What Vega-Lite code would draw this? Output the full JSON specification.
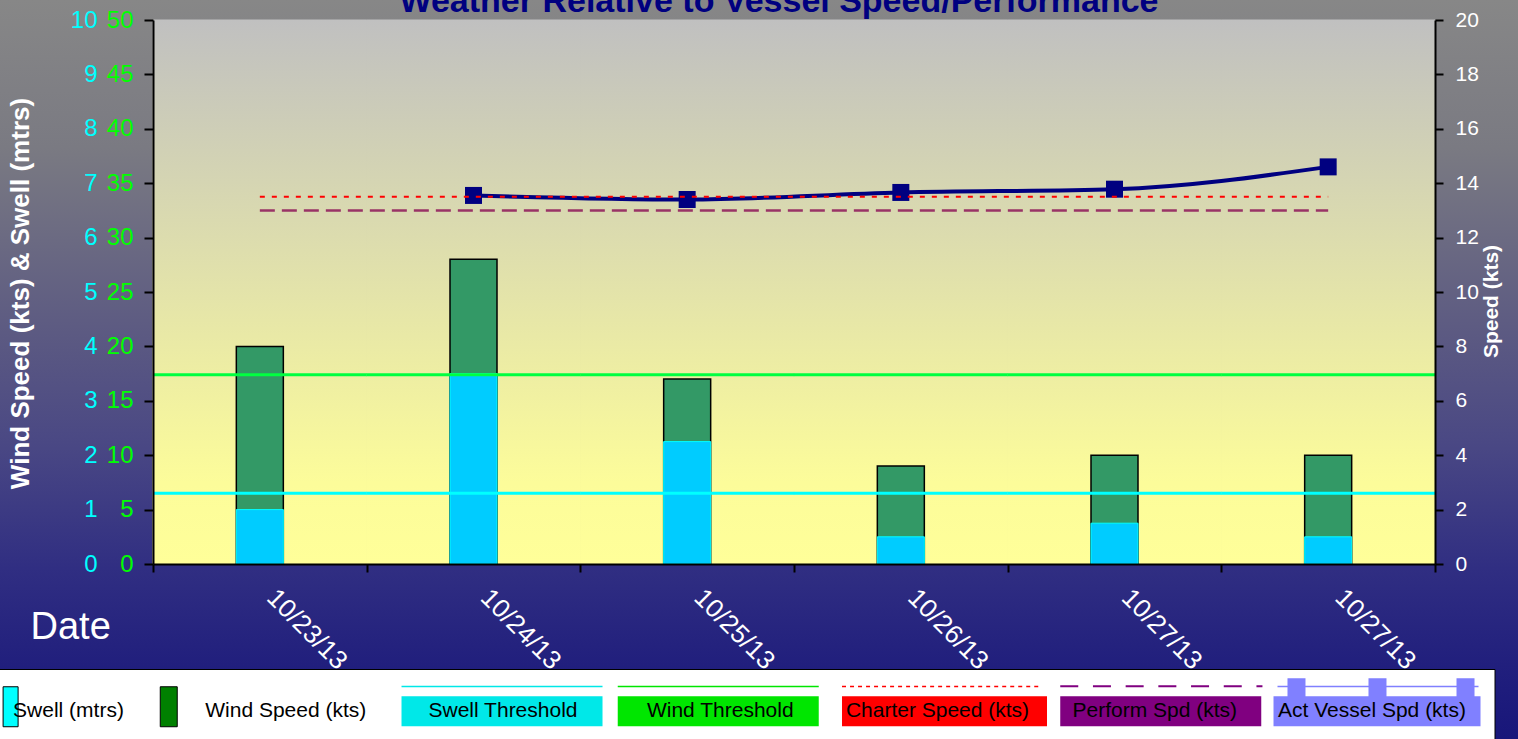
{
  "$schema": "https://vega.github.io/schema/vega-lite/v6.json",
  "width": 1518,
  "height": 739,
  "autosize": {"type": "none"},
  "padding": 0,
  "background": "#2f2e84",
  "view": {
    "fill": {"gradient": "linear", "x1": 0, "y1": 0, "x2": 0, "y2": 1,
      "stops": [
        {"offset": 0, "color": "#878787"},
        {"offset": 0.2, "color": "#7a7a82"},
        {"offset": 0.45, "color": "#5c5a82"},
        {"offset": 0.6, "color": "#4a4884"},
        {"offset": 0.77, "color": "#302e82"},
        {"offset": 0.9, "color": "#211f7d"},
        {"offset": 1, "color": "#18167a"}
      ]},
    "stroke": null
  },
  "title": {
    "text": "Weather Relative to Vessel Speed/Performance",
    "font": "Liberation Sans", "fontSize": 34, "fontWeight": "bold", "color": "#000080",
    "anchor": "middle", "baseline": "alphabetic", "offset": -46, "dx": 20
  },
  "datasets": {
    "daily": [
      {"slot": "10/23/13", "wind": 20, "swell": 1.0, "speed": null, "charter": 13.5, "perform": 13.0, "wind_threshold": 17.4, "swell_threshold": 1.3},
      {"slot": "10/24/13", "wind": 28, "swell": 3.5, "speed": 13.55, "charter": 13.5, "perform": 13.0, "wind_threshold": 17.4, "swell_threshold": 1.3},
      {"slot": "10/25/13", "wind": 17, "swell": 2.25, "speed": 13.4, "charter": 13.5, "perform": 13.0, "wind_threshold": 17.4, "swell_threshold": 1.3},
      {"slot": "10/26/13", "wind": 9, "swell": 0.5, "speed": 13.66, "charter": 13.5, "perform": 13.0, "wind_threshold": 17.4, "swell_threshold": 1.3},
      {"slot": "10/27/13", "wind": 10, "swell": 0.75, "speed": 13.78, "charter": 13.5, "perform": 13.0, "wind_threshold": 17.4, "swell_threshold": 1.3},
      {"slot": "10/27/13#2", "wind": 10, "swell": 0.5, "speed": 14.6, "charter": 13.5, "perform": 13.0, "wind_threshold": 17.4, "swell_threshold": 1.3}
    ]
  },
  "data": {"name": "daily"},
  "layer": [
    {
      "mark": {"type": "bar", "width": {"band": 1}, "strokeWidth": 1,
        "fill": {"gradient": "linear", "x1": 0, "y1": 0, "x2": 0, "y2": 1,
          "stops": [{"offset": 0, "color": "#c0c0c0"}, {"offset": 0.85, "color": "#fcfc9a"}, {"offset": 1, "color": "#ffff99"}]},
        "stroke": {"gradient": "linear", "x1": 0, "y1": 0, "x2": 0, "y2": 1,
          "stops": [{"offset": 0, "color": "#c0c0c0"}, {"offset": 0.85, "color": "#fcfc9a"}, {"offset": 1, "color": "#ffff99"}]}},
      "encoding": {
        "x": {"field": "slot", "type": "nominal"},
        "y": {"datum": 50, "type": "quantitative", "scale": {"domain": [0, 50], "range": [564, 20], "nice": false}, "axis": null},
        "y2": {"datum": 0}
      }
    },
    {
      "mark": {"type": "bar", "fill": "#339966", "stroke": "#000000", "strokeWidth": 1.5, "width": {"band": 0.22}},
      "encoding": {
        "x": {"field": "slot", "type": "nominal", "scale": {"range": [153, 1435]}, "axis": {
          "orient": "bottom", "offset": -175,
          "title": "Date", "titleColor": "#ffffff", "titleFontSize": 38, "titleFontWeight": "normal",
          "titleX": 30, "titleY": 74, "titleAlign": "left", "titleBaseline": "alphabetic", "titleAngle": 0,
          "labelAngle": 45, "labelAlign": "left", "labelBaseline": "top",
          "labelColor": "#ffffff", "labelFontSize": 26, "labelOffset": 20,
          "labelExpr": "isValid(datum.value) ? split(datum.value, '#')[0] : ''",
          "tickBand": "extent", "tickSize": 8, "labelPadding": 12, "labelOverlap": false, "labelFlush": false, "zindex": 1
        }},
        "y": {"field": "wind", "type": "quantitative", "scale": {"domain": [0, 50], "range": [564, 20], "nice": false}, "axis": {
          "orient": "left", "offset": -153, "values": [0, 5, 10, 15, 20, 25, 30, 35, 40, 45, 50],
          "labelColor": "#00ff00", "labelFontSize": 24, "tickSize": 9, "labelPadding": 11,
          "title": "Wind Speed (kts) & Swell (mtrs)", "titleColor": "#ffffff", "titleFontSize": 26, "titleFontWeight": "bold",
          "titleAngle": -90, "titleX": -133, "titleY": 293, "titleAlign": "center", "titleBaseline": "middle", "zindex": 1
        }}
      }
    },
    {
      "mark": {"type": "bar", "fill": "#00ccff", "stroke": "#00ffff", "strokeWidth": 1, "width": {"band": 0.22}},
      "encoding": {
        "x": {"field": "slot", "type": "nominal"},
        "y": {"field": "swell", "type": "quantitative", "scale": {"domain": [0, 10], "range": [564, 20], "nice": false}, "axis": {
          "orient": "left", "offset": -153, "values": [0, 1, 2, 3, 4, 5, 6, 7, 8, 9, 10],
          "labelColor": "#00ffff", "labelFontSize": 24, "domain": false, "ticks": false, "labelPadding": 56, "title": null
        }}
      }
    },
    {
      "mark": {"type": "tick", "color": "#00ff40", "thickness": 3, "size": 214, "opacity": 1},
      "encoding": {
        "x": {"field": "slot", "type": "nominal"},
        "y": {"field": "wind_threshold", "type": "quantitative", "scale": {"domain": [0, 50], "range": [564, 20], "nice": false}, "axis": null}
      }
    },
    {
      "mark": {"type": "tick", "color": "#00ffff", "thickness": 3, "size": 214, "opacity": 1},
      "encoding": {
        "x": {"field": "slot", "type": "nominal"},
        "y": {"field": "swell_threshold", "type": "quantitative", "scale": {"domain": [0, 10], "range": [564, 20], "nice": false}, "axis": null}
      }
    },
    {
      "mark": {"type": "line", "color": "#000080", "strokeWidth": 4, "interpolate": "monotone"},
      "encoding": {
        "x": {"field": "slot", "type": "nominal"},
        "y": {"field": "speed", "type": "quantitative", "scale": {"domain": [0, 20], "range": [564, 20], "nice": false}, "axis": {
          "orient": "right", "offset": -83, "values": [0, 2, 4, 6, 8, 10, 12, 14, 16, 18, 20],
          "labelColor": "#ffffff", "labelFontSize": 21, "tickSize": 8, "labelPadding": 12,
          "title": "Speed (kts)", "titleColor": "#ffffff", "titleFontSize": 21, "titleFontWeight": "bold",
          "titleAngle": -90, "titleX": 56, "titleY": 301, "titleAlign": "center", "titleBaseline": "middle", "zindex": 1
        }}
      }
    },
    {
      "mark": {"type": "point", "shape": "square", "filled": true, "size": 289, "color": "#000080", "opacity": 1},
      "encoding": {
        "x": {"field": "slot", "type": "nominal"},
        "y": {"field": "speed", "type": "quantitative", "scale": {"domain": [0, 20], "range": [564, 20], "nice": false}, "axis": null}
      }
    },
    {
      "mark": {"type": "line", "color": "#993366", "strokeWidth": 2.5, "strokeDash": [15, 7]},
      "encoding": {
        "x": {"field": "slot", "type": "nominal"},
        "y": {"field": "perform", "type": "quantitative", "scale": {"domain": [0, 20], "range": [564, 20], "nice": false}, "axis": null}
      }
    },
    {
      "mark": {"type": "line", "color": "#ff0000", "strokeWidth": 2, "strokeDash": [5, 7]},
      "encoding": {
        "x": {"field": "slot", "type": "nominal"},
        "y": {"field": "charter", "type": "quantitative", "scale": {"domain": [0, 20], "range": [564, 20], "nice": false}, "axis": null}
      }
    },
    {
      "data": {"values": [{"legend_item": 1}]},
      "mark": {"type": "point", "filled": true, "opacity": 0, "strokeWidth": 1},
      "encoding": {
        "color": {
          "datum": "Swell (mtrs)", "type": "nominal",
          "scale": {
            "domain": ["Swell (mtrs)", "Wind Speed (kts)", "Swell Threshold", "Wind Threshold", "Charter Speed (kts)", "Perform Spd (kts)", "Act Vessel Spd (kts)"],
            "range": ["#00ffff", "#008000", "#00e8e8", "#00e600", "#ff0000", "#800080", "#8080ff"]
          },
          "legend": {"title": null, "labelExpr": "datum.value === 'Swell (mtrs)' ? '\u00a0\u00a0\u00a0\u00a0\u00a0\u00a0\u00a0' + datum.label : datum.value === 'Wind Speed (kts)' || datum.value === 'Wind Threshold' ? datum.label + '\u00a0\u00a0' : datum.value === 'Charter Speed (kts)' ? '\u00a0\u00a0' + datum.label : datum.value === 'Perform Spd (kts)' ? '\u00a0\u00a0\u00a0' + datum.label : datum.value === 'Act Vessel Spd (kts)' ? '\u00a0' + datum.label : datum.label"}
        },
        "shape": {
          "datum": "Swell (mtrs)", "type": "nominal",
          "scale": {
            "domain": ["Swell (mtrs)", "Wind Speed (kts)", "Swell Threshold", "Wind Threshold", "Charter Speed (kts)", "Perform Spd (kts)", "Act Vessel Spd (kts)"],
            "range": [
              "M-1.85,0M6,0M0.17,-0.8H0.67V0.533H0.17Z",
              "M-1.85,0M6,0M-1.833,-0.8H-1.267V0.533H-1.833Z",
              "M-1.85,0M6,0M-1.033,-0.85H5.667V-0.8H-1.033ZM-1.033,-0.5H5.667V0.5H-1.033Z",
              "M-1.85,0M6,0M-1.067,-0.85H5.633V-0.8H-1.067ZM-1.067,-0.5H5.633V0.5H-1.067Z",
              "M-1.85,0M6,0M-0.833,-0.5H6V0.5H-0.833ZM-0.833,-0.85h0.133v0.05h-0.133v-0.05zm0.267,0h0.133v0.05h-0.133v-0.05zm0.267,0h0.133v0.05h-0.133v-0.05zm0.267,0h0.133v0.05h-0.133v-0.05zm0.267,0h0.133v0.05h-0.133v-0.05zm0.267,0h0.133v0.05h-0.133v-0.05zm0.267,0h0.133v0.05h-0.133v-0.05zm0.267,0h0.133v0.05h-0.133v-0.05zm0.267,0h0.133v0.05h-0.133v-0.05zm0.267,0h0.133v0.05h-0.133v-0.05zm0.267,0h0.133v0.05h-0.133v-0.05zm0.267,0h0.133v0.05h-0.133v-0.05zm0.267,0h0.133v0.05h-0.133v-0.05zm0.267,0h0.133v0.05h-0.133v-0.05zm0.267,0h0.133v0.05h-0.133v-0.05zm0.267,0h0.133v0.05h-0.133v-0.05zm0.267,0h0.133v0.05h-0.133v-0.05zm0.267,0h0.133v0.05h-0.133v-0.05zm0.267,0h0.133v0.05h-0.133v-0.05zm0.267,0h0.133v0.05h-0.133v-0.05zm0.267,0h0.133v0.05h-0.133v-0.05zm0.267,0h0.133v0.05h-0.133v-0.05zm0.267,0h0.133v0.05h-0.133v-0.05zm0.267,0h0.133v0.05h-0.133v-0.05zm0.267,0h0.133v0.05h-0.133v-0.05z",
              "M-1.85,0M6,0M-0.8,-0.5H5.9V0.5H-0.8ZM-0.8,-0.867h0.6v0.067h-0.6v-0.067zm1.09,0h0.6v0.067h-0.6v-0.067zm1.09,0h0.6v0.067h-0.6v-0.067zm1.09,0h0.6v0.067h-0.6v-0.067zm1.09,0h0.6v0.067h-0.6v-0.067zm1.09,0h0.6v0.067h-0.6v-0.067zm1.09,0h0.2v0.067h-0.2v-0.067z",
              "M-1.85,0M6,0M-0.933,-0.5H5.967V0.5H-0.933ZM-0.8,-0.85H5.9V-0.8H-0.8ZM-0.467,-1.1H0.133V-0.5H-0.467ZM2.233,-1.1H2.833V-0.5H2.233ZM5.167,-1.1H5.767V-0.5H5.167Z"
            ]
          },
          "legend": {"title": null, "labelExpr": "datum.value === 'Swell (mtrs)' ? '\u00a0\u00a0\u00a0\u00a0\u00a0\u00a0\u00a0' + datum.label : datum.value === 'Wind Speed (kts)' || datum.value === 'Wind Threshold' ? datum.label + '\u00a0\u00a0' : datum.value === 'Charter Speed (kts)' ? '\u00a0\u00a0' + datum.label : datum.value === 'Perform Spd (kts)' ? '\u00a0\u00a0\u00a0' + datum.label : datum.value === 'Act Vessel Spd (kts)' ? '\u00a0' + datum.label : datum.label"}
        },
        "stroke": {
          "datum": "Swell (mtrs)", "type": "nominal",
          "scale": {
            "domain": ["Swell (mtrs)", "Wind Speed (kts)", "Swell Threshold", "Wind Threshold", "Charter Speed (kts)", "Perform Spd (kts)", "Act Vessel Spd (kts)"],
            "range": ["#000000", "#000000", "transparent", "transparent", "transparent", "transparent", "transparent"]
          },
          "legend": {"title": null, "labelExpr": "datum.value === 'Swell (mtrs)' ? '\u00a0\u00a0\u00a0\u00a0\u00a0\u00a0\u00a0' + datum.label : datum.value === 'Wind Speed (kts)' || datum.value === 'Wind Threshold' ? datum.label + '\u00a0\u00a0' : datum.value === 'Charter Speed (kts)' ? '\u00a0\u00a0' + datum.label : datum.value === 'Perform Spd (kts)' ? '\u00a0\u00a0\u00a0' + datum.label : datum.value === 'Act Vessel Spd (kts)' ? '\u00a0' + datum.label : datum.label"}
        }
      }
    }
  ],
  "resolve": {"scale": {"y": "independent"}, "axis": {"y": "independent"}},
  "config": {
    "font": "Liberation Sans",
    "view": {"stroke": null},
    "scale": {"bandPaddingInner": 0, "bandPaddingOuter": 0},
    "axis": {"grid": false, "domainColor": "#000000", "domainWidth": 2, "tickColor": "#000000", "tickWidth": 2, "labelFont": "Liberation Sans", "titleFont": "Liberation Sans"},
    "legend": {
      "orient": "none", "legendX": -43.5, "legendY": 669,
      "direction": "horizontal", "columns": 7, "gridAlign": "all", "columnPadding": -22.75,
      "padding": 11, "fillColor": "#ffffff", "strokeColor": "#000000",
      "symbolSize": 3600, "symbolStrokeWidth": 1, "symbolOffset": 0, "symbolOpacity": 1,
      "labelOffset": 40, "labelAlign": "center", "labelBaseline": "middle", "labelFontSize": 21,
      "labelFont": "Liberation Sans", "labelColor": "#000000", "labelLimit": 400
    }
  }
}
